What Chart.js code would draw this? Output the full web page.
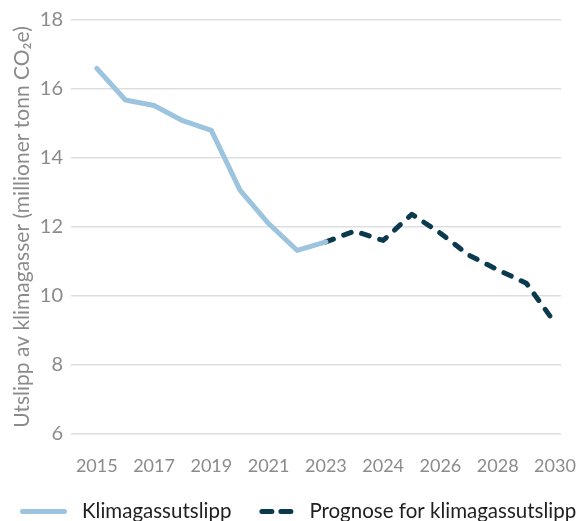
<!DOCTYPE html>
<html lang="no">
<head>
<meta charset="utf-8">
<title>Utslipp av klimagasser</title>
<script src="https://cdn.jsdelivr.net/npm/chart.js@4.4.1/dist/chart.umd.min.js"></script>
<style>
  html, body { margin: 0; padding: 0; background: #ffffff; }
  #wrap { width: 582px; height: 521px; position: relative; }
</style>
</head>
<body>
<div id="wrap"><canvas id="emissionsChart"></canvas></div>
<script>
// one category per year; the forecast restarts at 2023
const years = ['2015', '2016', '2017', '2018', '2019', '2020', '2021', '2022', '2023',
  '2023', '2024', '2025', '2026', '2027', '2028', '2029', '2030'];
const xTickIndexes = [0, 2, 4, 6, 8, 10, 12, 14, 16];
const yTicks = [6, 8, 10, 12, 14, 16, 18];

const historic = [16.6, 15.68, 15.52, 15.08, 14.8, 13.07, 12.1, 11.32, 11.57,
  null, null, null, null, null, null, null, null];
const forecast = [null, null, null, null, null, null, null, null, 11.57,
  11.88, 11.61, 12.37, 11.82, 11.18, 10.76, 10.37, 9.22];

const colors = {
  historic: '#9dc4de',
  forecast: '#0b3a4f',
  grid: '#dcdfe2',
  tick: '#8b8b8b',
  text: '#1f1f1f'
};

const FONT = 'Lato, "Open Sans", sans-serif';

function toPoints(values) {
  return values
    .map((v, i) => ({ x: i, y: v }))
    .filter((p) => p.y !== null);
}

// legend samples: solid line for history, two long dashes for the forecast
const legendSamples = [
  { length: 42, dash: [] },
  { length: 33, dash: [10, 9] }
];

// single-row legend along the bottom edge: line sample followed by the label
const lineLegend = {
  id: 'lineLegend',
  afterDraw(chart) {
    const { ctx } = chart;
    const y = chart.height - 9.5;
    let x = 22.5;
    ctx.save();
    ctx.font = `20.5px ${FONT}`;
    ctx.textBaseline = 'middle';
    chart.data.datasets.forEach((ds, i) => {
      const sample = legendSamples[i];
      ctx.strokeStyle = ds.borderColor;
      ctx.lineWidth = ds.borderWidth;
      ctx.lineCap = 'round';
      ctx.setLineDash(sample.dash);
      ctx.beginPath();
      ctx.moveTo(x, y);
      ctx.lineTo(x + sample.length, y);
      ctx.stroke();
      ctx.setLineDash([]);
      x += sample.length + (i === 0 ? 17.5 : 14.5);
      ctx.fillStyle = colors.text;
      ctx.fillText(ds.label, x, y);
      x += ctx.measureText(ds.label).width + 30.5;
    });
    ctx.restore();
  }
};

new Chart(document.getElementById('emissionsChart'), {
  type: 'line',
  data: {
    datasets: [
      {
        label: 'Klimagassutslipp',
        data: toPoints(historic),
        borderColor: colors.historic,
        backgroundColor: colors.historic,
        borderWidth: 5,
        borderCapStyle: 'round',
        borderJoinStyle: 'round',
        pointRadius: 0,
        tension: 0,
        fill: false
      },
      {
        label: 'Prognose for klimagassutslipp',
        data: toPoints(forecast),
        borderColor: colors.forecast,
        backgroundColor: colors.forecast,
        borderWidth: 5,
        borderDash: [8, 11],
        borderCapStyle: 'round',
        borderJoinStyle: 'round',
        pointRadius: 0,
        tension: 0,
        fill: false
      }
    ]
  },
  options: {
    responsive: true,
    maintainAspectRatio: false,
    animation: false,
    layout: { padding: { top: 19, right: 21, left: 0, bottom: 34 } },
    plugins: {
      legend: { display: false },
      tooltip: { enabled: false }
    },
    scales: {
      x: {
        type: 'linear',
        min: -0.9,
        max: 16.21,
        afterBuildTicks: (axis) => {
          axis.ticks = xTickIndexes.map((v) => ({ value: v }));
        },
        // fixed height, and no extra side padding for the end labels
        afterFit: (axis) => {
          axis.height = 53;
          axis.paddingLeft = 0;
          axis.paddingRight = 0;
        },
        ticks: {
          color: colors.tick,
          padding: 21,
          maxRotation: 0,
          autoSkip: false,
          font: { family: FONT, size: 18 },
          callback: (value) => years[value]
        },
        grid: { display: false, drawTicks: false },
        border: { display: false }
      },
      y: {
        min: 6,
        max: 18,
        afterBuildTicks: (axis) => {
          axis.ticks = yTicks.map((v) => ({ value: v }));
        },
        afterFit: (axis) => { axis.width = 71; },
        ticks: {
          color: colors.tick,
          padding: 8,
          font: { family: FONT, size: 20 }
        },
        title: {
          display: true,
          text: 'Utslipp av klimagasser (millioner tonn CO₂e)',
          color: colors.tick,
          padding: { top: 10, bottom: 0 },
          font: { family: FONT, size: 21 }
        },
        grid: { color: colors.grid, lineWidth: 1.5, drawTicks: false },
        border: { display: false }
      }
    }
  },
  plugins: [lineLegend]
});
</script>
</body>
</html>
